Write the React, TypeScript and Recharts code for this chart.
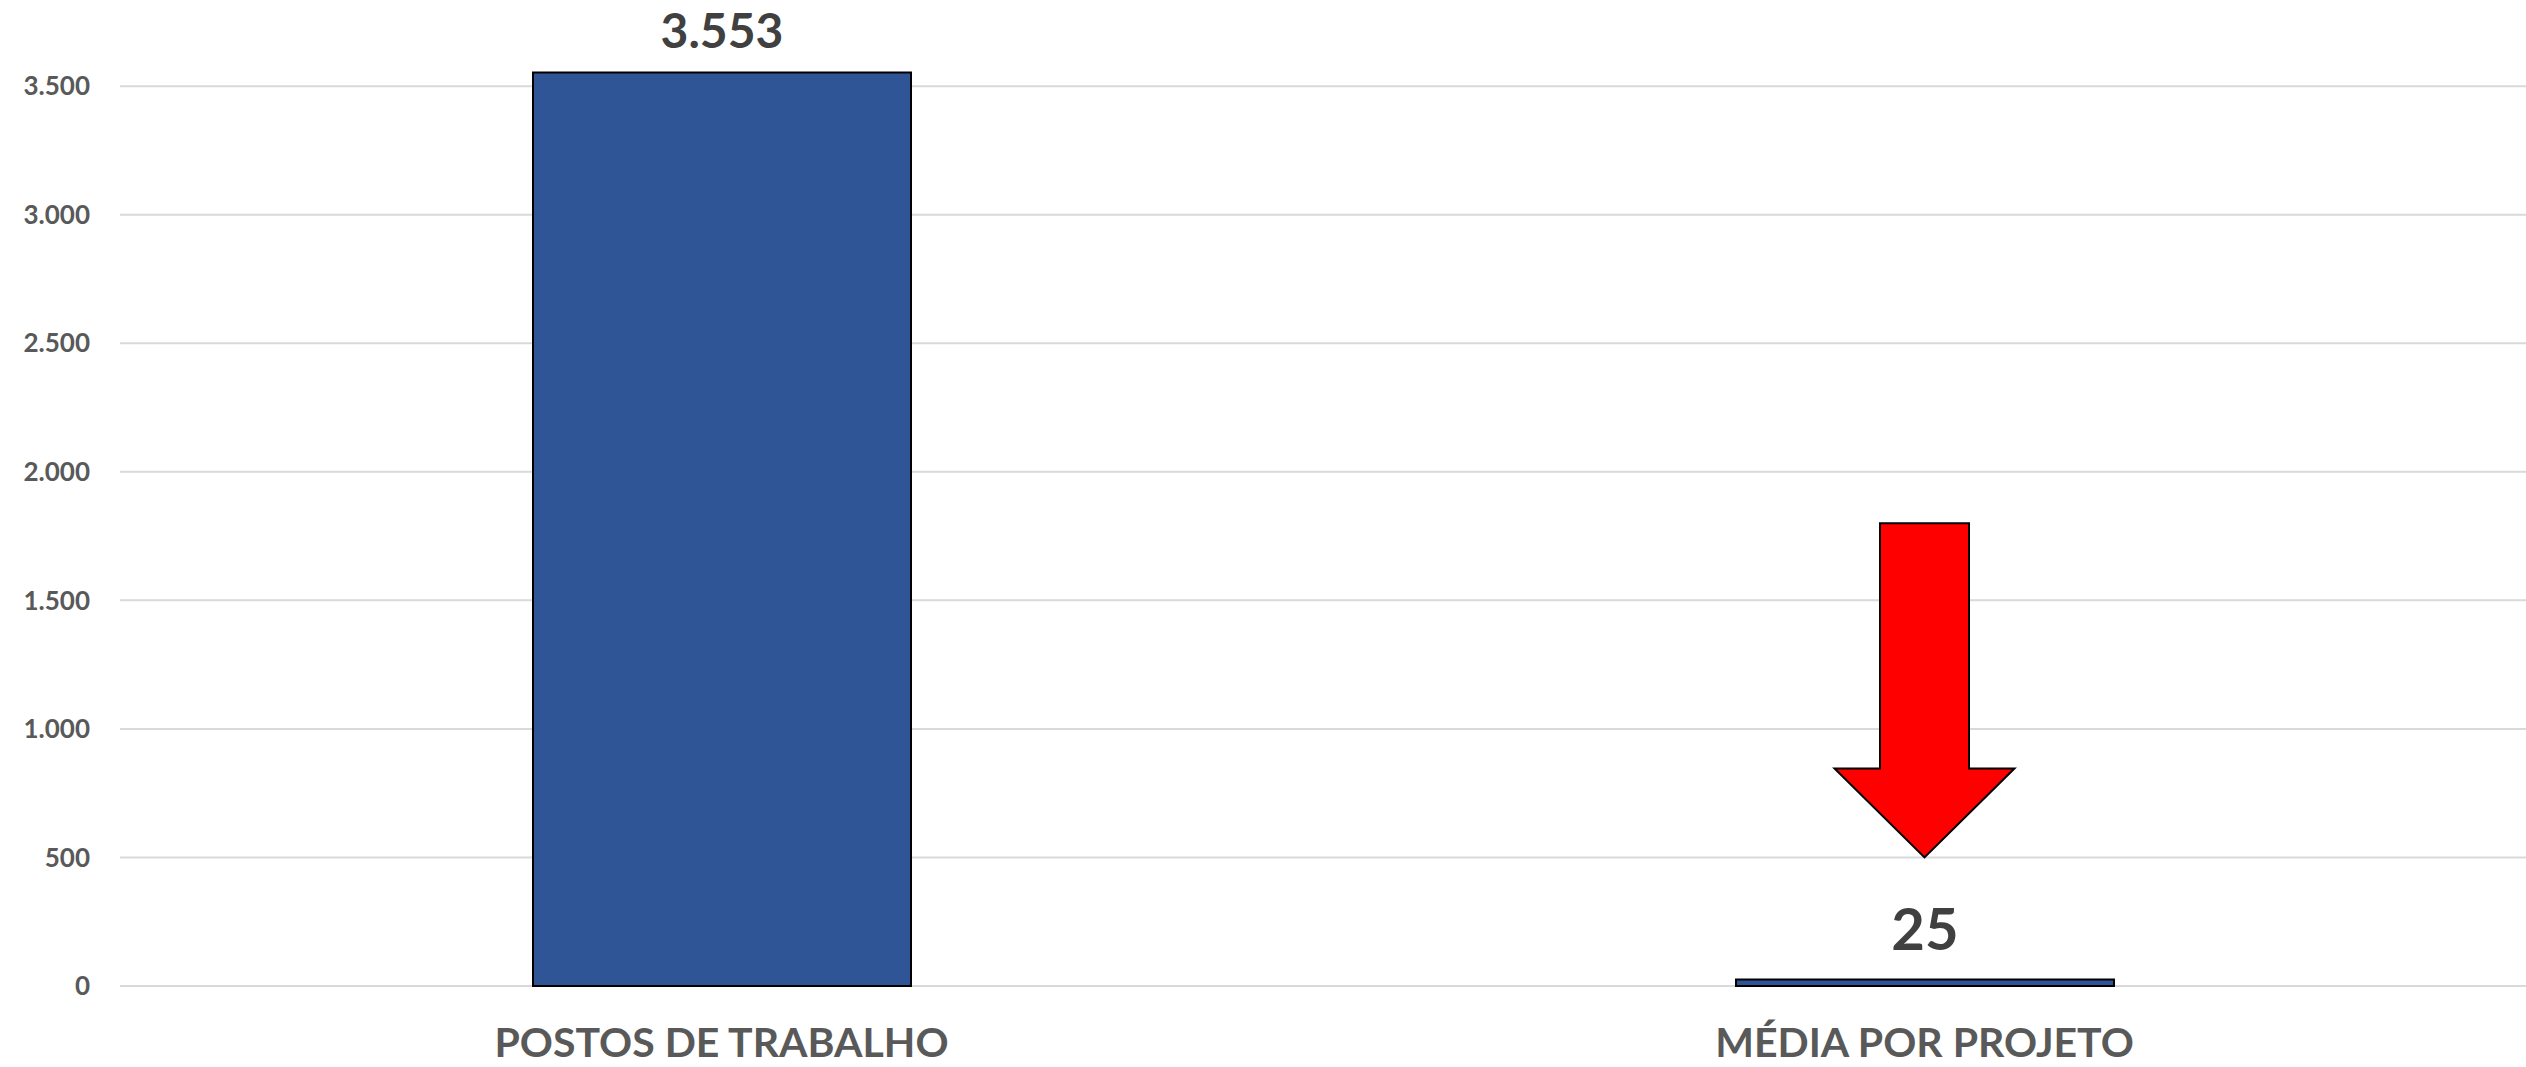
import React from 'react';
import { BarChart, Bar, XAxis, YAxis, CartesianGrid, LabelList, ReferenceArea } from 'recharts';

const categories = ['POSTOS DE TRABALHO', 'MÉDIA POR PROJETO'];
const values = [3553, 25];
const yTicks = [0, 500, 1000, 1500, 2000, 2500, 3000, 3500];
// arrow annotation spans these values on the y axis (tip, tail)
const arrowRange = [500, 1800];

const FONT = "Lato, 'Open Sans', sans-serif";
const LABEL_SIZES = [48, 58];
const LABEL_GAPS = [25, 30];

const data = categories.map((name, i) => ({ name, value: values[i] }));

const fmt = (v: number) => v.toLocaleString('pt-BR');

function ValueLabel(props: any) {
  const { x, y, width, value, index } = props;
  return (
    <text
      x={x + width / 2}
      y={y - LABEL_GAPS[index]}
      textAnchor="middle"
      fill="#404040"
      fontFamily={FONT}
      fontWeight={700}
      fontSize={LABEL_SIZES[index]}
    >
      {fmt(value)}
    </text>
  );
}

function DownArrow(props: any) {
  const { x, y, width, height } = props;
  const cx = x + width / 2;
  const top = y;
  const tip = y + height;
  const headLen = 89;
  const headHalf = 90;
  const shaftHalf = 44.5;
  const neck = tip - headLen;
  const d = `M${cx - shaftHalf},${top} L${cx + shaftHalf},${top} L${cx + shaftHalf},${neck} L${cx + headHalf},${neck} L${cx},${tip} L${cx - headHalf},${neck} L${cx - shaftHalf},${neck} Z`;
  return <path d={d} fill="#FF0000" stroke="#000" strokeWidth={2} strokeLinejoin="miter" />;
}

export default function App() {
  return (
    <div style={{ position: 'absolute', left: 0, top: 0, width: 2526, height: 1067, background: '#fff' }}>
      <BarChart
        width={2526}
        height={1067}
        data={data}
        margin={{ top: 9, right: 0, bottom: 0, left: 0 }}
        barSize={378}
      >
        <CartesianGrid vertical={false} horizontalValues={yTicks} stroke="#d9d9d9" strokeWidth={2} />
        <XAxis
          dataKey="name"
          height={81}
          axisLine={false}
          tickLine={false}
          tickSize={0}
          tickMargin={42}
          tick={{ fill: '#595959', fontSize: 41, fontWeight: 700, fontFamily: FONT }}
        />
        <YAxis
          width={120}
          domain={[0, 3800]}
          ticks={yTicks}
          axisLine={false}
          tickLine={false}
          tickSize={0}
          tickMargin={30}
          tickFormatter={fmt}
          tick={{ fill: '#595959', fontSize: 26, fontWeight: 700, fontFamily: FONT }}
        />
        <Bar dataKey="value" fill="#2F5597" stroke="#000" strokeWidth={2} isAnimationActive={false}>
          <LabelList dataKey="value" content={<ValueLabel />} />
        </Bar>
        <ReferenceArea
          x1={categories[1]}
          x2={categories[1]}
          y1={arrowRange[0]}
          y2={arrowRange[1]}
          shape={<DownArrow />}
        />
      </BarChart>
    </div>
  );
}
